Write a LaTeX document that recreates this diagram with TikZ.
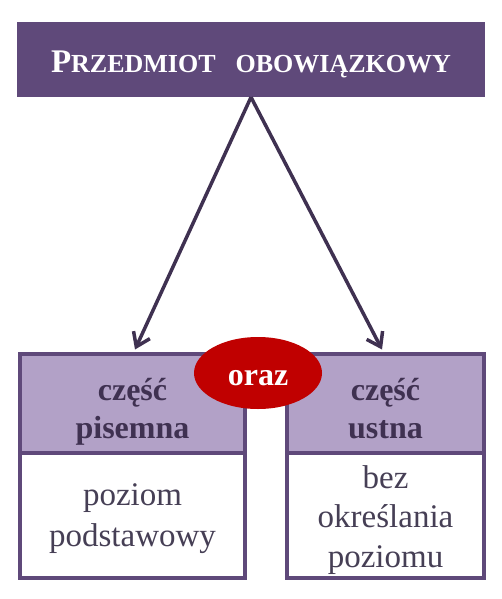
\documentclass[tikz,border=0pt]{standalone}
\usepackage{fontspec}
\setmainfont{Liberation Serif}
\usetikzlibrary{arrows.meta,shapes.geometric}
\definecolor{titlepurple}{HTML}{5F497A}
\definecolor{lavender}{HTML}{B2A1C7}
\definecolor{darkpurple}{HTML}{3F3151}
\definecolor{bodytext}{HTML}{463F55}
\definecolor{orazred}{HTML}{C00000}
\tikzset{
  boxline/.style={draw=titlepurple, line width=4.5pt},
  headbox/.style={boxline, fill=lavender},
  bodybox/.style={boxline, fill=white},
  headtxt/.style={anchor=base, inner sep=0pt, text=darkpurple, font=\fontsize{32}{38}\selectfont\bfseries},
  bodytxt/.style={anchor=base, inner sep=0pt, text=bodytext, font=\fontsize{33}{40}\selectfont},
  arr/.style={draw=darkpurple, line width=3.5pt, -{Straight Barb[length=13pt,width=18pt,line width=3.5pt]}}
}
\begin{document}
\begin{tikzpicture}[x=1pt,y=-1pt]
\useasboundingbox (0,0) rectangle (502,599);
% title
\node[fill=titlepurple, minimum width=468pt, minimum height=75pt, inner sep=0pt] (title) at (251,59.5) {};
\node[anchor=base, inner sep=0pt, text=white, font=\bfseries] (titletxt) at (251,73)
  {\fontsize{33}{40}\selectfont P\fontsize{26}{30}\selectfont RZEDMIOT\hspace{20pt}OBOWIĄZKOWY};
% boxes
\node[headbox, minimum width=225pt, minimum height=99pt, inner sep=0pt] (lhead) at (132.5,403.5) {};
\node[bodybox, minimum width=225pt, minimum height=125pt, inner sep=0pt] (lbody) at (132.5,515.5) {};
\node[headbox, minimum width=197pt, minimum height=99pt, inner sep=0pt] (rhead) at (385.5,403.5) {};
\node[bodybox, minimum width=197pt, minimum height=125pt, inner sep=0pt] (rbody) at (385.5,515.5) {};
% header texts
\node[headtxt] (l1) at (132.5,400) {część};
\node[headtxt] (l2) at (132.5,438) {pisemna};
\node[headtxt] (r1) at (385.5,400) {część};
\node[headtxt] (r2) at (385.5,438) {ustna};
% body texts
\node[bodytxt] (lb1) at (132.5,505) {poziom};
\node[bodytxt] (lb2) at (132.5,546) {podstawowy};
\node[bodytxt] (rb1) at (385.5,488) {bez};
\node[bodytxt] (rb2) at (385.5,527) {określania};
\node[bodytxt] (rb3) at (385.5,567) {poziomu};
% oraz
\node[ellipse, fill=orazred, minimum width=128pt, minimum height=72pt, inner sep=0pt] (oraz) at (258,373) {};
\node[anchor=base, inner sep=0pt, text=white, font=\fontsize{32}{38}\selectfont\bfseries] (oraztxt) at (258,385) {oraz};
% arrows
\draw[arr] (title.south) -- ([xshift=2.5pt,yshift=2.25pt]lhead.north);
\draw[arr] (title.south) -- ([xshift=-3.5pt,yshift=2.25pt]rhead.north);
\end{tikzpicture}
\end{document}
